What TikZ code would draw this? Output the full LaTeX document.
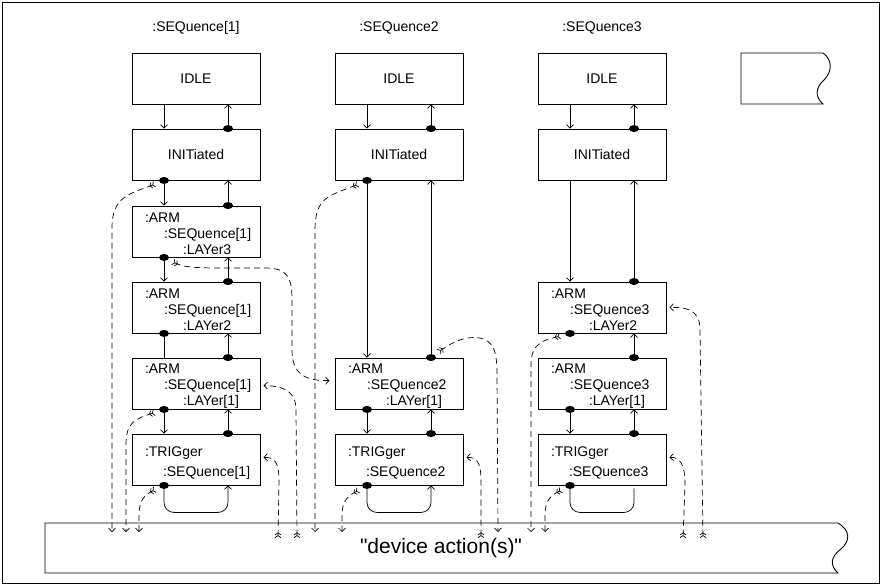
\documentclass[tikz,border=0pt]{standalone}
\usepackage{fontspec}
\setmainfont{Liberation Sans}[Ligatures=TeXOff]
\usetikzlibrary{arrows.meta,shapes.geometric}

\tikzset{
  state/.style={draw, line width=0.9pt, minimum width=128pt, minimum height=51pt, inner sep=0pt},
  armstate/.style={state, align=left, text width=114pt, inner xsep=7pt},
  dot/.style={ellipse, fill, inner sep=0pt, minimum width=10pt, minimum height=7pt},
  flow/.style={line width=0.7pt, -{Straight Barb[length=3.5pt,width=7pt]}},
  event/.style={line width=0.7pt, dash pattern=on 6pt off 4pt,
    {Straight Barb[reversed,length=2pt,width=6pt]Straight Barb[reversed,length=2pt,width=6pt]}-{Straight Barb[length=3.5pt,width=7pt]}},
  emit/.style={event, shorten <=5pt},
}

\begin{document}
\begin{tikzpicture}[x=1pt,y=-1pt,font=\fontsize{14}{16}\selectfont]
  \useasboundingbox (0,0) rectangle (881,585);
  \draw[line width=0.8pt] (2,2) rectangle (879,583);
  \foreach \c/\x/\q in {1/196/[1],2/399/2,3/602/3} {
    \node (head\c) at (\x,28) {:SEQuence\q};
    \node[state] (idle\c) at (\x,78.5) {IDLE};
    \node[state] (init\c) at (\x,154.5) {INITiated};
    \node[armstate] (trig\c) at (\x,459.5) {\rule{0pt}{16pt}\hspace*{6pt}:TRIGger\\[4pt]\hspace*{24pt}:SEQuence\q};
    \draw[flow] ([xshift=-32pt]idle\c.south) -- ([xshift=-32pt]init\c.north);
  }
  \node[armstate] (arm1c) at (196,231.5) {\rule{0pt}{15pt}\hspace*{6pt}:ARM\\\hspace*{25pt}:SEQuence[1]\\\hspace*{44pt}:LAYer3};
  \node[armstate] (arm1b) at (196,307.5) {\rule{0pt}{15pt}\hspace*{6pt}:ARM\\\hspace*{25pt}:SEQuence[1]\\\hspace*{44pt}:LAYer2};
  \node[armstate] (arm1a) at (196,383.5) {\rule{0pt}{15pt}\hspace*{6pt}:ARM\\\hspace*{25pt}:SEQuence[1]\\\hspace*{44pt}:LAYer[1]};
  \node[armstate] (arm2a) at (399,383.5) {\rule{0pt}{15pt}\hspace*{6pt}:ARM\\\hspace*{25pt}:SEQuence2\\\hspace*{44pt}:LAYer[1]};
  \node[armstate] (arm3b) at (602,307.5) {\rule{0pt}{15pt}\hspace*{6pt}:ARM\\\hspace*{25pt}:SEQuence3\\\hspace*{44pt}:LAYer2};
  \node[armstate] (arm3a) at (602,383.5) {\rule{0pt}{15pt}\hspace*{6pt}:ARM\\\hspace*{25pt}:SEQuence3\\\hspace*{44pt}:LAYer[1]};

  \draw[line width=0.9pt] (823,53) -- (741,53) -- (741,104) -- (823,104)
    .. controls (815,97) and (815,88) .. (824,80)
    .. controls (832,72) and (833,60) .. (823,53);
  \draw[line width=0.9pt] (838,523) -- (45,523) -- (45,573) -- (838,573)
    .. controls (830,566) and (830,557) .. (841,549)
    .. controls (850,541) and (851,531) .. (838,523);
  \node[font=\fontsize{21}{24}\selectfont] (devtext) at (441,548) {"device action(s)"};

  \foreach \st/\p in {init1/i1,arm1c/c1,arm1b/b1,arm1a/a1,trig1/t1,init2/i2,arm2a/a2,trig2/t2,arm3b/b3,arm3a/a3,trig3/t3} {
    \node[dot] (\p u) at ([xshift=32pt]\st.north) {};
    \node[dot] (\p d) at ([xshift=-32pt]\st.south) {};
  }
  \node[dot] (i3u) at ([xshift=32pt]init3.north) {};

  \foreach \src/\dst in {i1u/idle1,c1u/init1,b1u/arm1c,a1u/arm1b,t1u/arm1a,i2u/idle2,a2u/init2,t2u/arm2a,i3u/idle3,b3u/init3,a3u/arm3b,t3u/arm3a}
    \draw[flow] (\src) -- (\src |- \dst.south);
  \foreach \src/\dst in {i1d/arm1c,c1d/arm1b,a1d/trig1,i2d/arm2a,a2d/trig2,a3d/trig3}
    \draw[flow] (\src) -- (\src |- \dst.north);
  \draw[line width=0.7pt] (b1d) -- (b1d |- arm1a.north);
  \draw[flow] ([xshift=-32pt]init3.south) -- ([xshift=-32pt]arm3b.north);
  \draw[flow, rounded corners=10pt] (t1d) -- ([yshift=-27pt]t1d.center) -| ([xshift=32pt]trig1.south);
  \draw[flow, rounded corners=10pt] (t2d) -- ([yshift=-27pt]t2d.center) -| ([xshift=32pt]trig2.south);
  \draw[line width=0.7pt, rounded corners=10pt] (t3d) -- ([yshift=-27pt]t3d.center) -| ([xshift=32pt,yshift=-3pt]trig3.south);

  \foreach \n/\x in {a/112,b/126,c/139,g/315,h/342,i/498,k/531,l/545}
    \coordinate (dn\n) at (\x,532);
  \foreach \n/\x in {e/278,f/297,j/481,m/683,n/703}
    \coordinate (up\n) at (\x,538);

  \draw[emit] (i1d) .. controls (130,194) and (112,196) .. (112,228) -- (dna);
  \draw[emit] (a1d) .. controls (135,419) and (126,422) .. (126,445) -- (dnb);
  \draw[emit] (t1d) .. controls (146,494) and (139,499) .. (139,515) -- (dnc);
  \draw[emit, shorten >=5pt] (c1d) .. controls (185,268) and (200,268) .. (230,268) -- (265,268)
    .. controls (288,268) and (292,278) .. (292,300) -- (292,350)
    .. controls (292,374) and (305,381) .. ([yshift=3pt]arm2a.west);
  \draw[event, shorten >=3pt] (upe) -- (279,480) .. controls (279,463) and (275,457) .. ([yshift=2pt]trig1.east);
  \draw[event, shorten >=3pt] (upf) -- (296,410) .. controls (296,392) and (285,386) .. ([yshift=-2pt]arm1a.east);
  \draw[emit] (i2d) .. controls (330,196) and (315,196) .. (315,230) -- (dng);
  \draw[emit] (t2d) .. controls (350,495) and (342,499) .. (342,515) -- (dnh);
  \draw[emit] (a2u) .. controls (455,340) and (468,336) .. (480,338)
    .. controls (494,341) and (497,352) .. (497,375) -- (dni);
  \draw[event, shorten >=3pt] (upj) -- (481,480) .. controls (481,463) and (477,457) .. ([yshift=2pt]trig2.east);
  \draw[emit] (b3d) .. controls (545,340) and (531,342) .. (531,365) -- (dnk);
  \draw[emit] (t3d) .. controls (552,495) and (545,499) .. (545,515) -- (dnl);
  \draw[event, shorten >=3pt] (upm) -- (685,485) .. controls (685,464) and (680,457) .. ([yshift=2pt]trig3.east);
  \draw[event, shorten >=3pt] (upn) -- (700,330) .. controls (700,312) and (690,307) .. (arm3b.east);
\end{tikzpicture}
\end{document}
